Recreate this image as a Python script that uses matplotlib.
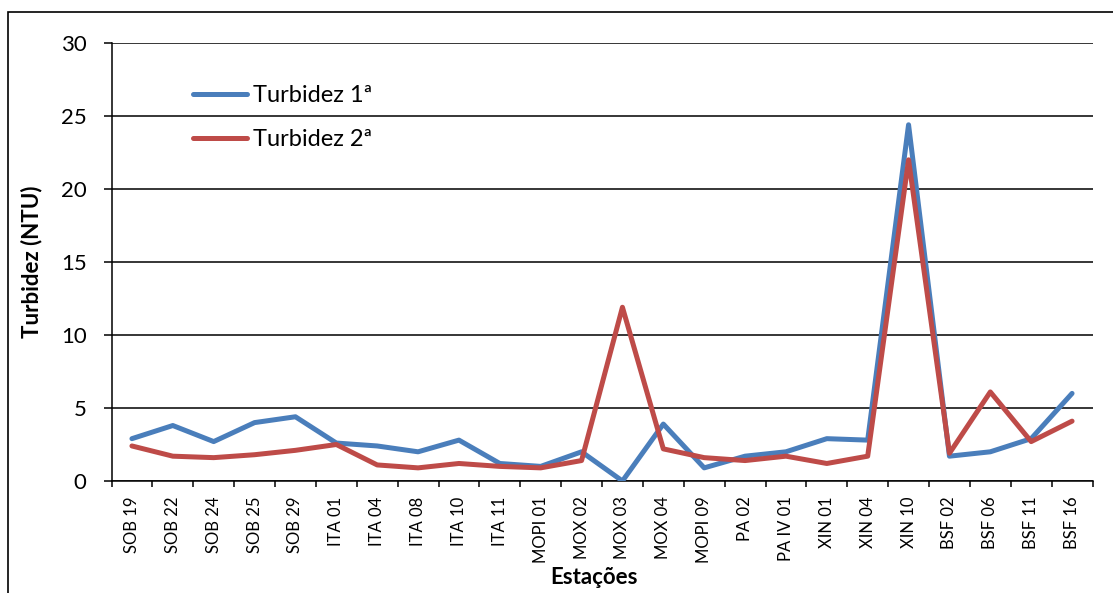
import numpy as np
import matplotlib
matplotlib.use("Agg")
import matplotlib.pyplot as plt
from matplotlib.patches import Rectangle

plt.rcParams['font.family'] = ['Lato', 'DejaVu Sans']

estacoes = ["SOB 19", "SOB 22", "SOB 24", "SOB 25", "SOB 29", "ITA 01", "ITA 04",
            "ITA 08", "ITA 10", "ITA 11", "MOPI 01", "MOX 02", "MOX 03", "MOX 04",
            "MOPI 09", "PA 02", "PA IV 01", "XIN 01", "XIN 04", "XIN 10", "BSF 02",
            "BSF 06", "BSF 11", "BSF 16"]
turbidez_1 = [2.9, 3.8, 2.7, 4.0, 4.4, 2.6, 2.4, 2.0, 2.8, 1.2, 1.0, 2.0, 0.0, 3.9,
              0.9, 1.7, 2.0, 2.9, 2.8, 24.4, 1.7, 2.0, 2.9, 6.0]
turbidez_2 = [2.4, 1.7, 1.6, 1.8, 2.1, 2.5, 1.1, 0.9, 1.2, 1.0, 0.9, 1.4, 11.9, 2.2,
              1.6, 1.4, 1.7, 1.2, 1.7, 22.0, 1.9, 6.1, 2.7, 4.1]
y_ticks = [0, 5, 10, 15, 20, 25, 30]

W, H = 1113, 593
fig = plt.figure(figsize=(W / 100, H / 100), dpi=100)
ax = fig.add_axes([111.5 / W, 1 - 481 / H, 981 / W, 438 / H])

x = np.arange(len(estacoes))
ax.plot(x, turbidez_1, color="#4A7EBB", lw=3.6, solid_joinstyle="round",
        solid_capstyle="round", label="Turbidez 1ª", zorder=3)
ax.plot(x, turbidez_2, color="#BE4B48", lw=3.6, solid_joinstyle="round",
        solid_capstyle="round", label="Turbidez 2ª", zorder=3)

ax.set_xlim(-0.5, len(estacoes) - 0.5)
ax.set_ylim(0, 30)
ax.set_yticks(y_ticks)
ax.set_yticklabels([str(v) for v in y_ticks], fontsize=16)
ax.yaxis.grid(True, color="black", lw=1.1)
ax.set_axisbelow(True)

# category boundaries carry the tick marks, centres carry the labels
ax.set_xticks(np.arange(len(estacoes) + 1) - 0.5)
ax.set_xticklabels([])
ax.set_xticks(x, minor=True)
ax.set_xticklabels(estacoes, minor=True, rotation=90, fontsize=12)
ax.tick_params(axis="x", which="major", length=4, width=1.1, direction="out")
ax.tick_params(axis="x", which="minor", length=0, pad=11)
ax.tick_params(axis="y", length=6, width=1.1, pad=12)

for side in ("top", "right"):
    ax.spines[side].set_visible(False)
for side in ("left", "bottom"):
    ax.spines[side].set_linewidth(1.1)

leg = ax.legend(loc="upper left", bbox_to_anchor=(72 / 981, 1 - 33 / 438),
                frameon=False, fontsize=17, handlelength=2.3, handletextpad=0.25,
                labelspacing=0.95, borderaxespad=0)

fig.text(32 / W, 1 - 262 / H, "Turbidez (NTU)", rotation=90, ha="center",
         va="center", fontsize=16, fontweight="bold")
fig.text(594 / W, 1 - 577 / H, "Estações", ha="center", va="center",
         fontsize=16, fontweight="bold")

fig.add_artist(Rectangle((8 / W, -0.1), 1.2, 1.1 - 12 / H, transform=fig.transFigure,
                         fill=False, edgecolor="black", lw=1.2))

fig.savefig("out.png", dpi=100)
